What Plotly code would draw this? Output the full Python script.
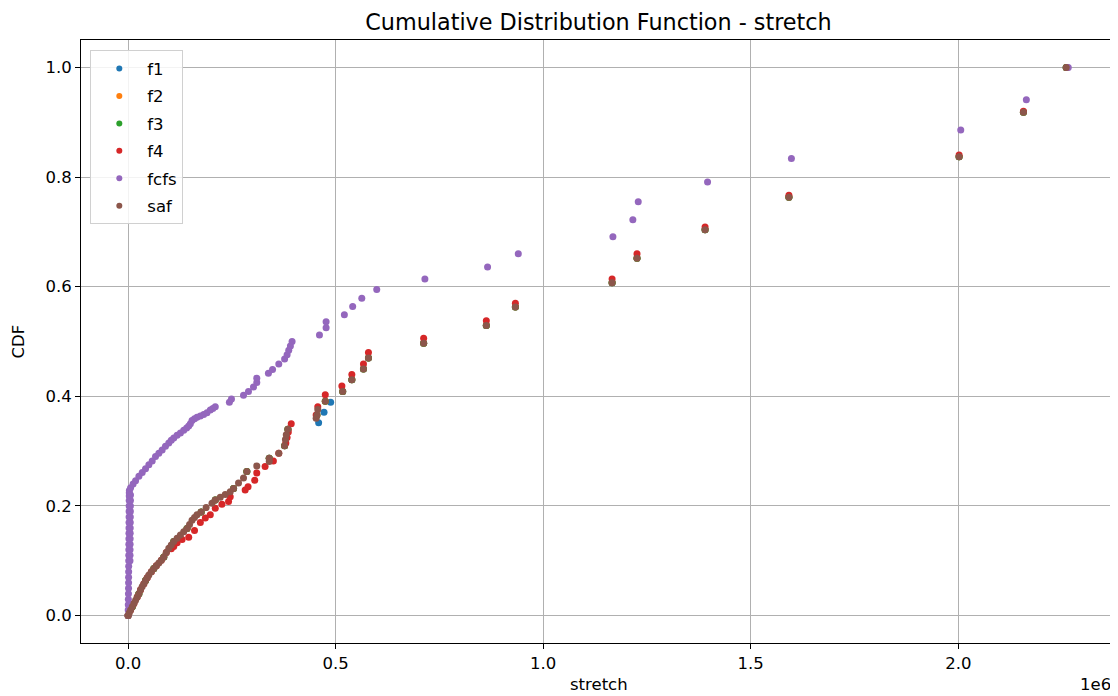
import plotly.graph_objects as go

# ---------------- data ----------------
series_names = ["f1", "f2", "f3", "f4", "fcfs", "saf"]
series_colors = ["#1f77b4", "#ff7f0e", "#2ca02c", "#d62728", "#9467bd", "#8c564b"]

saf_x = [0, 3000, 6000, 10000, 14000, 18000, 22000, 26000, 30000, 34000, 38000, 42000,
         46000, 50000, 56000, 62000, 68000, 74000, 80000, 86000, 92000, 98000, 104000,
         110000, 118000, 126000, 134000, 142000, 148000, 154000, 160000, 166000, 176000,
         188000, 202000, 210000, 222000, 234000, 246000, 254000, 266000, 278000, 286000,
         310000, 340000, 340000, 363000, 377000, 379000, 381000, 385000, 453000, 455000,
         457000, 475000, 517000, 539000, 567000, 579000, 712000, 863000, 933000, 1166000,
         1226000, 1390000, 1592000, 2002000, 2157000, 2260000]
saf_y = [0.000, 0.005, 0.010, 0.016, 0.022, 0.028, 0.034, 0.040, 0.047, 0.053, 0.058, 0.064,
         0.069, 0.074, 0.080, 0.086, 0.091, 0.096, 0.101, 0.107, 0.115, 0.123, 0.129,
         0.135, 0.141, 0.147, 0.153, 0.159, 0.166, 0.174, 0.179, 0.184, 0.189,
         0.197, 0.205, 0.211, 0.216, 0.221, 0.226, 0.232, 0.242, 0.251, 0.263,
         0.273, 0.281, 0.287, 0.296, 0.310, 0.321, 0.330, 0.340, 0.360, 0.366,
         0.376, 0.391, 0.409, 0.430, 0.450, 0.470, 0.497, 0.529, 0.563, 0.607,
         0.652, 0.704, 0.763, 0.837, 0.918, 1.000]

f4_x = [0, 6000, 14000, 22000, 30000, 38000, 46000, 56000, 68000, 80000, 92000, 104000,
        110000, 118000, 130000, 146000, 160000, 174000, 186000, 198000, 210000, 226000,
        242000, 246000, 282000, 289000, 305000, 310000, 330000, 350000, 363000, 380000,
        383000, 386000, 393000, 453000, 457000, 475000, 515000, 539000, 567000, 579000,
        712000, 863000, 933000, 1166000, 1226000, 1390000, 1592000, 2002000, 2157000, 2262000]
f4_y = [0.000, 0.010, 0.022, 0.034, 0.047, 0.058, 0.069, 0.080, 0.091, 0.101, 0.115, 0.122,
        0.126, 0.133, 0.139, 0.143, 0.155, 0.170, 0.178, 0.184, 0.196, 0.203,
        0.208, 0.217, 0.229, 0.235, 0.247, 0.260, 0.272, 0.282, 0.296, 0.315,
        0.325, 0.335, 0.350, 0.366, 0.381, 0.403, 0.419, 0.440, 0.459, 0.480,
        0.506, 0.538, 0.570, 0.614, 0.660, 0.709, 0.767, 0.840, 0.920, 1.000]

f1_x = [0, 10000, 26000, 42000, 62000, 86000, 110000, 142000, 176000, 210000, 254000,
        286000, 340000, 377000, 385000, 459000, 472000, 488000, 517000, 539000, 567000,
        579000, 712000, 863000, 933000, 1166000, 1226000, 1390000, 1592000, 2002000,
        2157000, 2260000]
f1_y = [0.000, 0.016, 0.040, 0.064, 0.086, 0.107, 0.135, 0.159, 0.189, 0.211, 0.232,
        0.263, 0.287, 0.310, 0.340, 0.352, 0.371, 0.389, 0.409, 0.430, 0.450,
        0.470, 0.497, 0.529, 0.563, 0.607, 0.652, 0.704, 0.763, 0.837,
        0.918, 1.000]

f2_x = [0, 10000, 26000, 42000, 62000, 86000, 110000, 142000, 176000, 210000, 254000,
        286000, 340000, 377000, 385000, 455000, 475000, 517000, 539000, 567000,
        579000, 712000, 863000, 933000, 1166000, 1226000, 1390000, 1592000, 2002000,
        2157000, 2260000]
f2_y = [0.000, 0.016, 0.040, 0.064, 0.086, 0.107, 0.135, 0.159, 0.189, 0.211, 0.232,
        0.263, 0.287, 0.310, 0.340, 0.366, 0.391, 0.409, 0.430, 0.450,
        0.470, 0.497, 0.529, 0.563, 0.607, 0.652, 0.704, 0.763, 0.837,
        0.918, 1.000]
f3_x = list(f2_x)
f3_y = list(f2_y)

fcfs_x = [0, 200, 400, 600, 800, 1000, 1100, 1200, 1300, 1400, 1500, 1600, 1700, 1800,
          1900, 2000, 2100, 2200, 2300, 2400, 2500, 2600, 2700, 2800, 3000,
          4500, 4600, 4700, 4800, 4900, 5000, 5100, 5200, 5300, 5400, 5500, 5600, 5700,
          6000, 12000, 18000, 26000, 34000, 42000, 50000, 58000, 66000, 74000, 82000,
          90000, 98000, 104000, 110000, 118000, 126000, 134000, 141000, 146000, 150000,
          154000, 160000, 166000, 174000, 182000, 190000, 198000, 204000, 210000,
          244000, 249000, 278000, 290000, 302000, 310000, 310000, 338000, 348000, 363000,
          377000, 383000, 387000, 391000, 395000, 461000, 477000, 477000, 521000, 541000,
          563000, 599000, 715000, 866000, 940000, 1168000, 1216000, 1229000, 1396000,
          1598000, 2006000, 2164000, 2265000]
fcfs_y = [0.000, 0.010, 0.020, 0.030, 0.040, 0.050, 0.060, 0.070, 0.080, 0.090, 0.100,
          0.110, 0.120, 0.130, 0.140, 0.150, 0.160, 0.170, 0.180, 0.190, 0.200, 0.210,
          0.218, 0.224, 0.228,
          0.100, 0.110, 0.120, 0.130, 0.140, 0.150, 0.160, 0.170, 0.180, 0.190, 0.200,
          0.210, 0.220,
          0.233, 0.240, 0.246, 0.254, 0.261, 0.268, 0.275, 0.282, 0.290, 0.296, 0.302,
          0.309, 0.315, 0.320, 0.324, 0.329, 0.333, 0.338, 0.342, 0.346, 0.350,
          0.356, 0.359, 0.362, 0.364, 0.367, 0.370, 0.375, 0.378, 0.381,
          0.389, 0.395, 0.402, 0.409, 0.417, 0.425, 0.433, 0.442, 0.449, 0.459,
          0.468, 0.476, 0.484, 0.492, 0.500, 0.512, 0.525, 0.536, 0.549, 0.564,
          0.579, 0.595, 0.614, 0.636, 0.660, 0.691, 0.722, 0.755, 0.791,
          0.834, 0.886, 0.941, 1.000]

x_tick_vals = [0, 500000, 1000000, 1500000, 2000000]
x_tick_text = ["0.0", "0.5", "1.0", "1.5", "2.0"]
y_tick_vals = [0.0, 0.2, 0.4, 0.6, 0.8, 1.0]
y_tick_text = ["0.0", "0.2", "0.4", "0.6", "0.8", "1.0"]

title_text = "Cumulative Distribution Function - stretch"
x_label = "stretch"
y_label = "CDF"
x_offset_text = "1e6"

# ---------------- figure ----------------
xs = [f1_x, f2_x, f3_x, f4_x, fcfs_x, saf_x]
ys = [f1_y, f2_y, f3_y, f4_y, fcfs_y, saf_y]

FONT = "DejaVu Sans"
TXT = 16.5
fig = go.Figure()
for name, color, x, y in zip(series_names, series_colors, xs, ys):
    fig.add_trace(go.Scatter(
        x=x, y=y, mode="markers", name=name, legendgroup=name, showlegend=False,
        marker=dict(color=color, size=7, line=dict(width=0)),
    ))
# legend entries (smaller symbols, as in the reference legend)
for name, color in zip(series_names, series_colors):
    fig.add_trace(go.Scatter(
        x=[None], y=[None], mode="markers", name=name, legendgroup=name,
        marker=dict(color=color, size=6, line=dict(width=0)),
    ))

axis_common = dict(
    showgrid=True, gridcolor="#b0b0b0", gridwidth=0.8,
    showline=True, linecolor="black", linewidth=1, mirror=True,
    ticks="outside", ticklen=5, tickcolor="black", tickwidth=1,
    zeroline=False, tickfont=dict(family=FONT, size=TXT, color="black"),
)

# the page body adds an 8px offset; the layout compensates for it
W, H = 1110, 688
fig.update_layout(
    width=W, height=H,
    margin=dict(l=73, r=2, t=32, b=53),
    paper_bgcolor="white", plot_bgcolor="white",
    font=dict(family=FONT, color="black"),
    title=dict(text=title_text, xref="paper", x=0.5, xanchor="center",
               y=1 - 14 / H, yanchor="middle",
               font=dict(family=FONT, size=22.3, color="black")),
    xaxis=dict(range=[-113500, 2380000], tickvals=x_tick_vals, ticktext=x_tick_text,
               **axis_common),
    yaxis=dict(range=[-0.05, 1.05], tickvals=y_tick_vals, ticktext=y_tick_text,
               **axis_common),
    legend=dict(x=0.009, y=0.983, xanchor="left", yanchor="top",
                bgcolor="rgba(255,255,255,0.85)", bordercolor="#d0d0d0", borderwidth=1,
                font=dict(family=FONT, size=TXT, color="black"),
                tracegroupgap=3, itemwidth=46),
    showlegend=True,
    annotations=[
        dict(text=x_label, xref="paper", yref="paper", x=0.5, y=(643 - 685) / 603,
             xanchor="center", yanchor="middle", showarrow=False,
             font=dict(family=FONT, size=TXT, color="black")),
        dict(text=y_label, xref="paper", yref="paper", x=(18 - 81) / 1035, y=0.5,
             xanchor="center", yanchor="middle", showarrow=False, textangle=-90,
             font=dict(family=FONT, size=TXT, color="black")),
        dict(text=x_offset_text, xref="paper", yref="paper", x=(1113 - 81) / 1035,
             y=(643 - 685) / 603, xanchor="right", yanchor="middle", showarrow=False,
             font=dict(family=FONT, size=TXT, color="black")),
    ],
)

fig.write_html("out.html")
